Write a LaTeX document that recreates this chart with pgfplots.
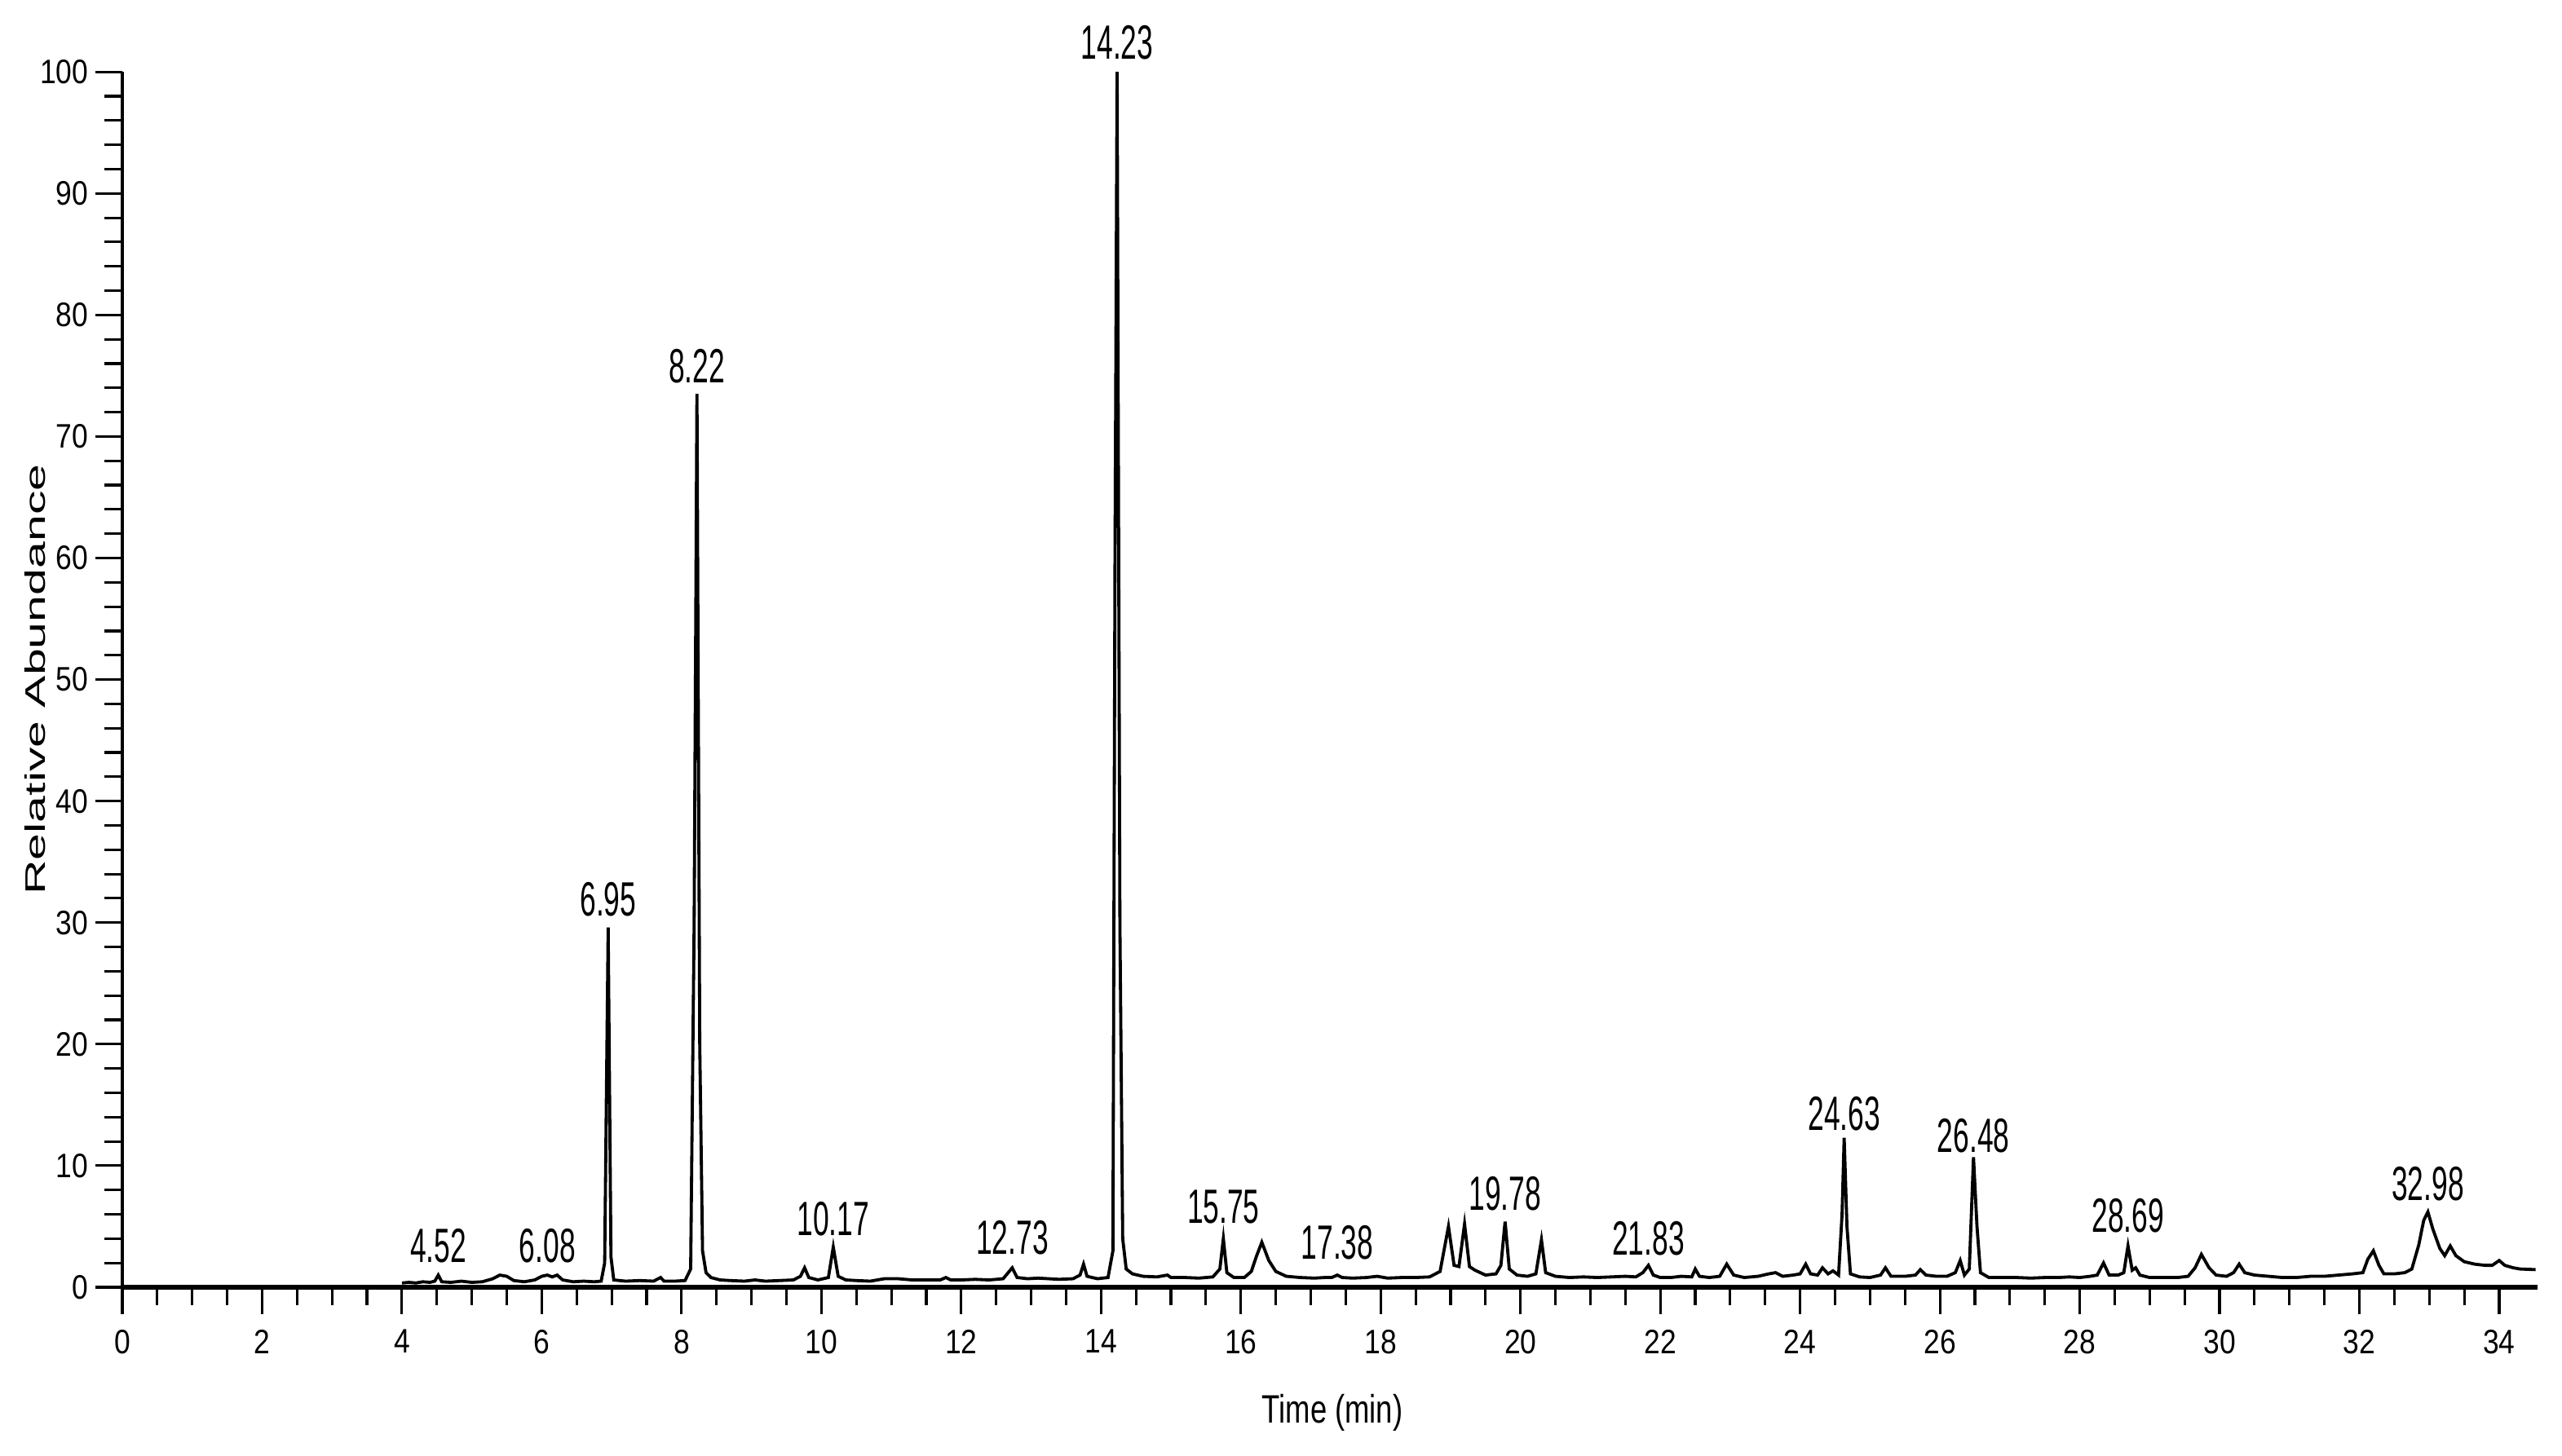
\documentclass[border=0pt]{standalone}
\usepackage{fontspec}
\setmainfont{Liberation Sans}
\newfontfamily\tickfont{Liberation Sans}[FakeStretch=0.85]
\newfontfamily\peakfont{Liberation Sans}[FakeStretch=0.6]
\newfontfamily\labfont{Liberation Sans}[FakeStretch=0.75]
\newfontfamily\yfont{Liberation Sans}[FakeStretch=1.7]
\usepackage{pgfplots}
\pgfplotsset{compat=1.18}

\begin{document}
\begin{tikzpicture}
\begin{axis}[
    scale only axis,
    width=426.6pt,
    height=214.7pt,
    xmin=0, xmax=34.55,
    ymin=0, ymax=100,
    axis x line=bottom,
    axis y line=left,
    axis line style={-},
    x axis line style={line width=1pt},
    y axis line style={line width=0.5pt},
    xtick={0,2,...,34},
    ytick={0,10,...,100},
    minor x tick num=3,
    minor y tick num=4,
    tick align=outside,
    major tick length=4.8pt,
    minor tick length=3.2pt,
    tick style={black, line width=0.45pt},
    /pgf/number format/assume math mode=true,
    tick label style={font=\tickfont\fontsize{6}{7}\selectfont, inner sep=1pt},
    xticklabel style={yshift=-1.5pt},
    xlabel={Time (min)},
    ylabel={Relative Abundance},
    every axis x label/.style={at={(axis description cs:0.501,-0.103)}, anchor=center, font=\labfont\fontsize{7}{8}\selectfont},
    every axis y label/.style={at={(axis description cs:-0.036,0.5)}, anchor=center, rotate=90, font=\yfont\fontsize{5}{6}\selectfont},
    clip=false,
]
% chromatogram trace
\addplot[black, line width=0.55pt] coordinates {
(4.00,0.35) (4.10,0.4) (4.20,0.35) (4.30,0.45) (4.40,0.4) (4.47,0.5) (4.52,1.0) (4.57,0.45)
(4.70,0.4) (4.85,0.5) (5.00,0.4) (5.15,0.45) (5.30,0.7) (5.40,1.0) (5.50,0.9) (5.60,0.55)
(5.75,0.45) (5.90,0.6) (6.00,0.9) (6.08,1.0) (6.15,0.85) (6.22,1.0) (6.30,0.6) (6.45,0.45)
(6.60,0.5) (6.75,0.45) (6.85,0.5) (6.90,2.0) (6.95,29.6) (6.99,2.5) (7.03,0.6) (7.20,0.5)
(7.40,0.55) (7.60,0.5) (7.70,0.8) (7.75,0.5) (7.90,0.5) (8.05,0.55) (8.13,1.5) (8.18,30)
(8.22,73.5) (8.26,20) (8.30,3) (8.35,1.2) (8.42,0.8) (8.55,0.6) (8.70,0.55) (8.90,0.5)
(9.05,0.6) (9.20,0.5) (9.40,0.55) (9.60,0.6) (9.70,0.9) (9.76,1.6) (9.82,0.8) (9.95,0.6)
(10.10,0.8) (10.17,3.3) (10.24,0.9) (10.35,0.6) (10.50,0.55) (10.70,0.5) (10.90,0.7) (11.10,0.7)
(11.30,0.6) (11.50,0.6) (11.70,0.6) (11.78,0.8) (11.85,0.6) (12.00,0.6) (12.20,0.65) (12.40,0.6)
(12.60,0.7) (12.73,1.6) (12.80,0.8) (12.95,0.7) (13.10,0.75) (13.25,0.7) (13.40,0.65) (13.60,0.7)
(13.70,1.0) (13.75,1.9) (13.80,0.9) (13.95,0.7) (14.10,0.8) (14.17,3) (14.20,60) (14.23,100)
(14.27,30) (14.31,4) (14.36,1.5) (14.45,1.1) (14.60,0.9) (14.80,0.85) (14.95,1.0) (15.00,0.8)
(15.20,0.8) (15.40,0.75) (15.60,0.85) (15.70,1.5) (15.75,4.0) (15.80,1.2) (15.90,0.8) (16.05,0.8)
(16.15,1.3) (16.22,2.5) (16.30,3.7) (16.40,2.2) (16.50,1.3) (16.65,0.9) (16.85,0.8) (17.05,0.75)
(17.20,0.8) (17.30,0.8) (17.38,1.0) (17.45,0.8) (17.60,0.75) (17.80,0.8) (17.95,0.9) (18.10,0.75)
(18.30,0.8) (18.50,0.8) (18.70,0.85) (18.85,1.3) (18.97,5.0) (19.05,1.8) (19.12,1.7) (19.20,5.2)
(19.27,1.7) (19.35,1.4) (19.50,1.0) (19.65,1.1) (19.72,1.8) (19.78,5.4) (19.84,1.5) (19.95,1.0)
(20.10,0.9) (20.22,1.1) (20.30,3.9) (20.36,1.2) (20.50,0.9) (20.70,0.8) (20.90,0.85) (21.10,0.8)
(21.30,0.85) (21.50,0.9) (21.65,0.85) (21.75,1.2) (21.83,1.8) (21.90,1.0) (22.00,0.8) (22.15,0.8)
(22.30,0.9) (22.45,0.85) (22.50,1.5) (22.56,0.9) (22.70,0.8) (22.85,0.9) (22.95,1.9) (23.05,1.0)
(23.20,0.8) (23.40,0.9) (23.55,1.1) (23.65,1.2) (23.75,0.9) (23.90,1.0) (24.00,1.1) (24.08,1.9)
(24.15,1.1) (24.25,1.0) (24.32,1.6) (24.40,1.1) (24.47,1.35) (24.55,1.0) (24.60,6) (24.63,12.3)
(24.67,5) (24.72,1.1) (24.85,0.85) (25.00,0.8) (25.15,1.0) (25.22,1.6) (25.30,0.9) (25.50,0.9)
(25.65,1.0) (25.72,1.45) (25.80,1.0) (25.95,0.9) (26.10,0.9) (26.22,1.2) (26.29,2.2) (26.35,1.0)
(26.42,1.5) (26.48,10.7) (26.53,5) (26.58,1.2) (26.70,0.8) (26.90,0.8) (27.10,0.8) (27.30,0.75)
(27.50,0.8) (27.70,0.8) (27.85,0.85) (28.00,0.8) (28.15,0.9) (28.25,1.0) (28.34,2.0) (28.42,1.0)
(28.55,1.0) (28.63,1.2) (28.69,3.4) (28.75,1.4) (28.80,1.6) (28.86,1.0) (29.00,0.8) (29.20,0.8)
(29.40,0.8) (29.55,0.9) (29.65,1.6) (29.74,2.7) (29.85,1.6) (29.95,1.0) (30.10,0.9) (30.20,1.2)
(30.28,1.9) (30.36,1.2) (30.50,1.0) (30.70,0.9) (30.90,0.8) (31.10,0.8) (31.30,0.9) (31.50,0.9)
(31.70,1.0) (31.90,1.1) (32.05,1.2) (32.12,2.3) (32.20,3.0) (32.28,1.8) (32.35,1.1) (32.50,1.1)
(32.65,1.2) (32.75,1.5) (32.85,3.5) (32.92,5.5) (32.98,6.2) (33.05,4.8) (33.15,3.2) (33.22,2.6)
(33.30,3.4) (33.38,2.6) (33.50,2.1) (33.65,1.9) (33.80,1.8) (33.90,1.8) (34.00,2.2) (34.08,1.8)
(34.20,1.6) (34.30,1.5) (34.52,1.45)
};
% peak retention-time labels
\addplot[draw=none, mark=none, nodes near coords, point meta=explicit symbolic,
    nodes near coords style={anchor=south, inner sep=0pt, font=\peakfont\fontsize{8.5}{9}\selectfont, text=black}]
    table[meta=lab] {
x y lab
4.52 1.9 4.52
6.08 1.9 6.08
6.95 30.4 6.95
8.22 74.3 8.22
10.17 4.1 10.17
12.73 2.6 12.73
14.23 100.9 14.23
15.75 5.1 15.75
17.38 2.2 17.38
19.78 6.2 19.78
21.83 2.5 21.83
24.63 12.8 24.63
26.48 11.0 26.48
28.69 4.4 28.69
32.98 7.0 32.98
};
\end{axis}
\pgfresetboundingbox
\path ([shift={(-21.6pt,-29.7pt)}]current axis.south west) rectangle ([shift={(4.3pt,12.7pt)}]current axis.north east);
\end{tikzpicture}
\end{document}
